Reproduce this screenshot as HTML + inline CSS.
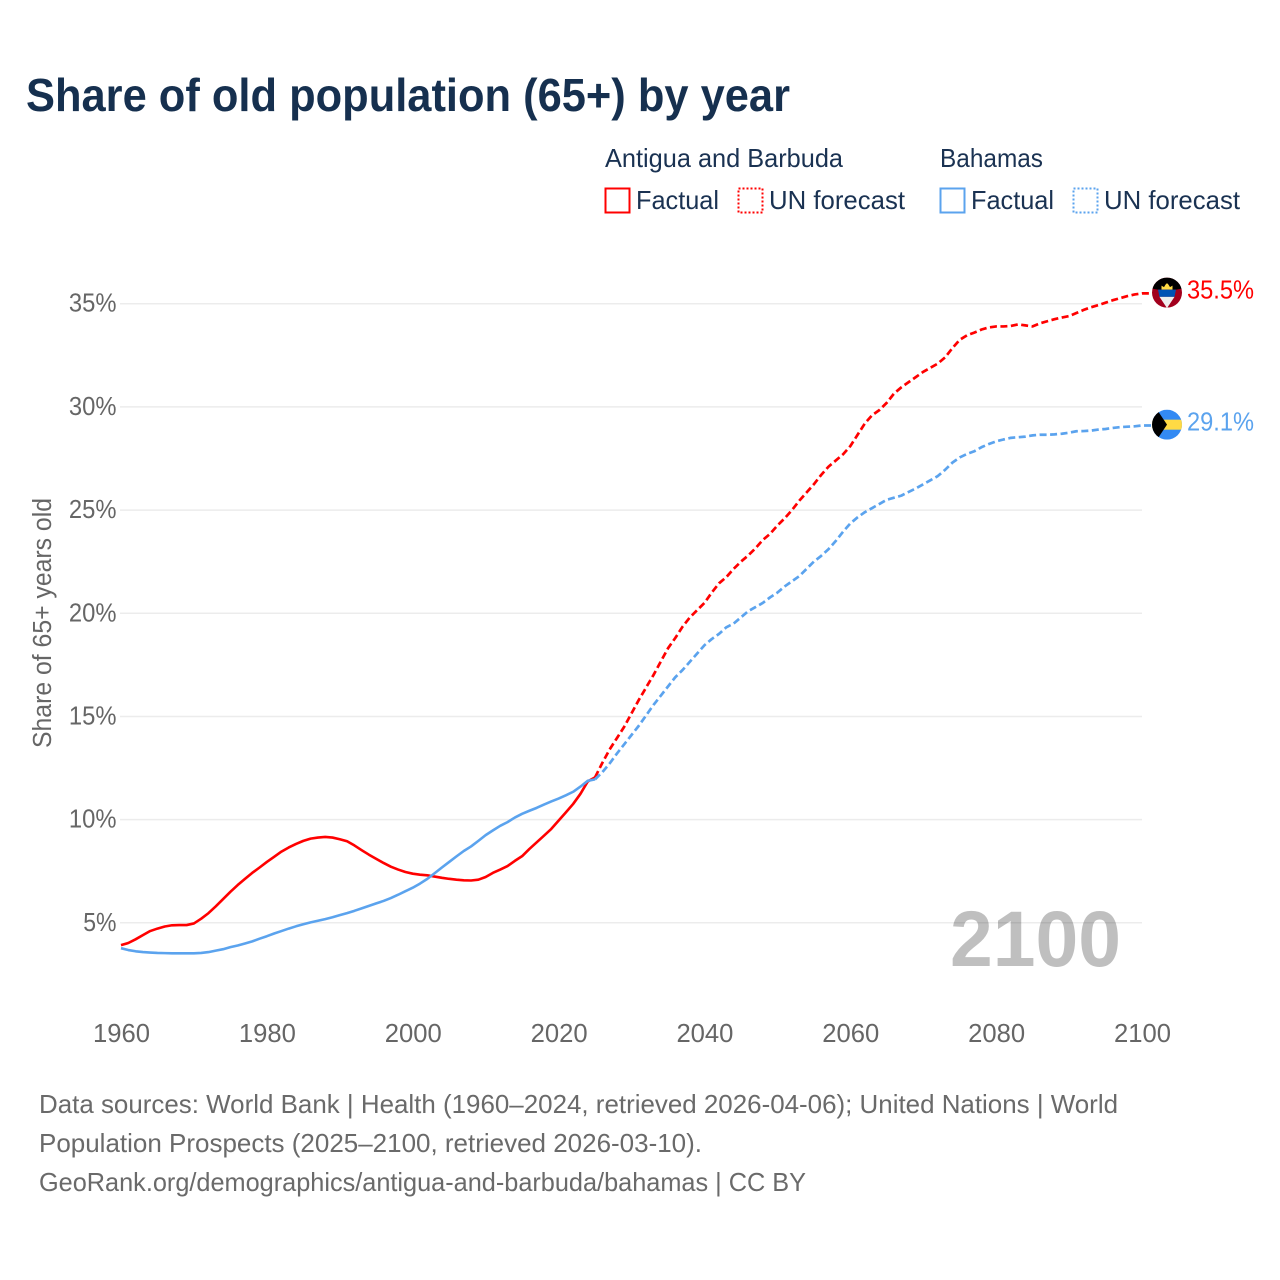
<!DOCTYPE html>
<html lang="en">
<head>
<meta charset="utf-8">
<title>Share of old population (65+) by year</title>
<style>
  html, body { margin: 0; padding: 0; background: #fff; }
  svg { display: block; font-family: "Liberation Sans", sans-serif; }
  .legend-text { font-size: 26px; fill: #1a3252; }
  .foot { font-size: 26px; fill: #6a6a6a; }
  .tick { font-size: 25.5px; fill: #666; }
</style>
</head>
<body>
<svg id="chart" width="1280" height="1280" viewBox="0 0 1280 1280" xmlns="http://www.w3.org/2000/svg">
  <defs>
    <clipPath id="flag-clip"><circle cx="0" cy="0" r="15"></circle></clipPath>
  </defs>
  <rect width="1280" height="1280" fill="#fff"></rect>

  <text x="26" y="111" font-size="46" font-weight="700" fill="#16304f" textLength="764" lengthAdjust="spacingAndGlyphs">Share of old population (65+) by year</text>

  <g>
    <text class="legend-text" x="605" y="167" textLength="238" lengthAdjust="spacingAndGlyphs">Antigua and Barbuda</text>
    <text class="legend-text" x="940" y="167" textLength="103" lengthAdjust="spacingAndGlyphs">Bahamas</text>

    <rect x="605.5" y="188.5" width="24" height="24" fill="none" stroke="#ff0000" stroke-width="2"></rect>
    <text class="legend-text" x="636" y="209" textLength="83" lengthAdjust="spacingAndGlyphs">Factual</text>
    <rect x="738.5" y="188.5" width="24" height="24" fill="none" stroke="#ff0000" stroke-width="2" stroke-dasharray="2 2"></rect>
    <text class="legend-text" x="769" y="209" textLength="136" lengthAdjust="spacingAndGlyphs">UN forecast</text>

    <rect x="940.5" y="188.5" width="24" height="24" fill="none" stroke="#5ba3ee" stroke-width="2"></rect>
    <text class="legend-text" x="971" y="209" textLength="83" lengthAdjust="spacingAndGlyphs">Factual</text>
    <rect x="1073.5" y="188.5" width="24" height="24" fill="none" stroke="#5ba3ee" stroke-width="2" stroke-dasharray="2 2"></rect>
    <text class="legend-text" x="1104" y="209" textLength="136" lengthAdjust="spacingAndGlyphs">UN forecast</text>
  </g>

  <g id="grid"></g>
  <g id="y-ticks"></g>
  <g id="x-ticks"></g>

  <text class="tick" transform="translate(51 623) rotate(-90)" text-anchor="middle" textLength="250" lengthAdjust="spacingAndGlyphs">Share of 65+ years old</text>

  <text x="950" y="966" font-size="79" font-weight="700" fill="#000" fill-opacity="0.25" textLength="171" lengthAdjust="spacingAndGlyphs">2100</text>

  <g id="series"></g>

  <g id="flag-antigua" clip-path="url(#flag-clip)">
    <rect x="-15" y="-15" width="30" height="30" fill="#a2001d"></rect>
    <polygon points="-15,-15 15,-15 15,-4 9,-3 -9,-3 -15,-4" fill="#000"></polygon>
    <polygon points="-5.5,-3 -5.5,-7 -3,-5.5 -1.5,-8 0,-9.5 1.5,-8 3,-5.5 5.5,-7 5.5,-3" fill="#ffda44"></polygon>
    <polygon points="-9,-3 9,-3 7.5,4.3 -7.5,4.3" fill="#0052b4"></polygon>
    <polygon points="-7.5,4.3 7.5,4.3 0,15.5" fill="#eeeeee"></polygon>
  </g>
  <g id="flag-bahamas" clip-path="url(#flag-clip)">
    <rect x="-15" y="-15" width="30" height="30" fill="#338af3"></rect>
    <rect x="-15" y="-5" width="30" height="10" fill="#ffda44"></rect>
    <polygon points="-15,-15 -10,-15 0,0 -10,15 -15,15" fill="#000"></polygon>
  </g>

  <g id="end-labels"></g>

  <g>
    <text class="foot" x="39" y="1113" textLength="1079" lengthAdjust="spacingAndGlyphs">Data sources: World Bank | Health (1960–2024, retrieved 2026-04-06); United Nations | World</text>
    <text class="foot" x="39" y="1152" textLength="663" lengthAdjust="spacingAndGlyphs">Population Prospects (2025–2100, retrieved 2026-03-10).</text>
    <text class="foot" x="39" y="1191" textLength="767" lengthAdjust="spacingAndGlyphs">GeoRank.org/demographics/antigua-and-barbuda/bahamas | CC BY</text>
  </g>
</svg>

<script>
const xTickYears = [1960, 1980, 2000, 2020, 2040, 2060, 2080, 2100];
const yTickValues = [5, 10, 15, 20, 25, 30, 35];
const yTickLabels = ["5%", "10%", "15%", "20%", "25%", "30%", "35%"];

const factualStartYear = 1960;
const forecastStartYear = 2025;

const antiguaFactual = [
  3.92, 4.02, 4.2, 4.4, 4.6, 4.72, 4.82, 4.88, 4.89, 4.89,
  4.97, 5.2, 5.47, 5.8, 6.15, 6.5, 6.83, 7.13, 7.42, 7.68,
  7.95, 8.2, 8.45, 8.65, 8.82, 8.97, 9.08, 9.13, 9.16, 9.13,
  9.05, 8.95, 8.75, 8.52, 8.3, 8.1, 7.9, 7.72, 7.58, 7.46,
  7.38, 7.33, 7.3, 7.24, 7.18, 7.13, 7.09, 7.06, 7.05, 7.09,
  7.22, 7.42, 7.58, 7.75, 8.0, 8.23, 8.58, 8.9, 9.22, 9.55,
  9.95, 10.35, 10.76, 11.25, 11.85, 12.05
];
const bahamasFactual = [
  3.77, 3.68, 3.62, 3.58, 3.56, 3.54, 3.53, 3.52, 3.52, 3.52,
  3.52, 3.54, 3.58, 3.65, 3.72, 3.82, 3.9, 4.0, 4.1, 4.23,
  4.35, 4.48, 4.6, 4.72, 4.83, 4.93, 5.02, 5.1, 5.18, 5.27,
  5.37, 5.47, 5.58, 5.7, 5.82, 5.94, 6.06, 6.2, 6.36, 6.53,
  6.7, 6.9, 7.13, 7.4, 7.68, 7.95, 8.22, 8.48, 8.7, 8.97,
  9.25, 9.48, 9.7, 9.88, 10.1, 10.28, 10.43, 10.57, 10.73, 10.88,
  11.02, 11.18, 11.35, 11.6, 11.88, 11.95
];
const antiguaForecast = [
  12.05, 12.75, 13.4, 13.95, 14.5, 15.15, 15.8, 16.4, 17.0, 17.65,
  18.3, 18.8, 19.35, 19.8, 20.15, 20.5, 21.0, 21.45, 21.75, 22.15,
  22.5, 22.8, 23.15, 23.55, 23.85, 24.25, 24.6, 25.0, 25.45, 25.85,
  26.25, 26.7, 27.1, 27.4, 27.7, 28.1, 28.65, 29.2, 29.6, 29.85,
  30.2, 30.65, 30.95, 31.2, 31.45, 31.7, 31.9, 32.1, 32.4, 32.85,
  33.25, 33.47, 33.6, 33.75, 33.85, 33.9, 33.9, 33.92, 34.0, 33.95,
  33.9, 34.05, 34.15, 34.25, 34.33, 34.4, 34.55, 34.7, 34.83, 34.93,
  35.05, 35.17, 35.27, 35.37, 35.45, 35.5
];
const bahamasForecast = [
  11.95, 12.3, 12.72, 13.2, 13.65, 14.1, 14.55, 15.05, 15.55, 16.0,
  16.45, 16.9, 17.25, 17.65, 18.05, 18.45, 18.75, 19.0, 19.32, 19.5,
  19.8, 20.1, 20.3, 20.5, 20.77, 21.0, 21.3, 21.55, 21.8, 22.15,
  22.5, 22.78, 23.1, 23.5, 23.95, 24.35, 24.65, 24.9, 25.1, 25.3,
  25.5, 25.6, 25.7, 25.88, 26.05, 26.25, 26.45, 26.65, 26.95, 27.3,
  27.55, 27.72, 27.85, 28.05, 28.2, 28.33, 28.42, 28.5, 28.53, 28.56,
  28.62, 28.65, 28.65, 28.67, 28.7, 28.75, 28.82, 28.83, 28.85, 28.9,
  28.93, 28.98, 29.02, 29.04, 29.06, 29.1
];
const endLabels = ["35.5%", "29.1%"];

const SVG_NS = "http://www.w3.org/2000/svg";
const RED = "#ff0000";
const BLUE = "#5ba3ee";
const FLAG_X = 1167;

function xScale(year) {
  return 121 + (year - 1960) * 7.293;
}
function yScale(value) {
  return 922.8 - (value - 5) * 20.636;
}
function make(tag, attrs, parent) {
  const el = document.createElementNS(SVG_NS, tag);
  for (const k in attrs) el.setAttribute(k, attrs[k]);
  parent.appendChild(el);
  return el;
}
function linePath(startYear, values, extendToFlag) {
  let d = "";
  values.forEach(function (v, i) {
    d += (i ? "L" : "M") + xScale(startYear + i).toFixed(2) + " " + yScale(v).toFixed(2);
  });
  if (extendToFlag) {
    d += "L" + (FLAG_X - 15) + " " + yScale(values[values.length - 1]).toFixed(2);
  }
  return d;
}

const gridGroup = document.getElementById("grid");
const yTickGroup = document.getElementById("y-ticks");
yTickValues.forEach(function (v, i) {
  const line = make("line", { x1: 120, x2: 1142, y1: yScale(v), y2: yScale(v), stroke: "#ececec", "stroke-width": 1.5 }, gridGroup);
  
  
  const label = yTickLabels[i];
  const t = make("text", { class: "tick", x: 116.5, y: yScale(v) + 8, "text-anchor": "end", textLength: (label.length - 1) * 14.3 + 19, lengthAdjust: "spacingAndGlyphs" }, yTickGroup);
  t.textContent = label;
  
  
});

const xTickGroup = document.getElementById("x-ticks");
xTickYears.forEach(function (year) {
  const t = make("text", { class: "tick", x: xScale(year) + 0.5, y: 1042, "text-anchor": "middle", textLength: 57, lengthAdjust: "spacingAndGlyphs" }, xTickGroup);
  t.textContent = String(year);
  
  
});

const seriesGroup = document.getElementById("series");

const antiguaFactualLine = make("path", { d: linePath(factualStartYear, antiguaFactual, false), fill: "none", stroke: RED, "stroke-width": 2.6, "stroke-linejoin": "round" }, seriesGroup);



const antiguaForecastLine = make("path", { d: linePath(forecastStartYear, antiguaForecast, true), fill: "none", stroke: RED, "stroke-width": 2.7, "stroke-dasharray": "7 3.5", "stroke-linejoin": "round" }, seriesGroup);



const bahamasFactualLine = make("path", { d: linePath(factualStartYear, bahamasFactual, false), fill: "none", stroke: BLUE, "stroke-width": 2.6, "stroke-linejoin": "round" }, seriesGroup);



const bahamasForecastLine = make("path", { d: linePath(forecastStartYear, bahamasForecast, true), fill: "none", stroke: BLUE, "stroke-width": 2.7, "stroke-dasharray": "7 3.5", "stroke-linejoin": "round" }, seriesGroup);



const antiguaEnd = yScale(antiguaForecast[antiguaForecast.length - 1]);
const bahamasEnd = yScale(bahamasForecast[bahamasForecast.length - 1]);
document.getElementById("flag-antigua").setAttribute("transform", "translate(" + FLAG_X + " " + (antiguaEnd - 0.8) + ")");
document.getElementById("flag-bahamas").setAttribute("transform", "translate(" + FLAG_X + " " + (bahamasEnd - 0.8) + ")");

const endGroup = document.getElementById("end-labels");
const antiguaLabel = make("text", { x: 1187, y: antiguaEnd + 5, "font-size": 25.5, fill: RED, textLength: 67, lengthAdjust: "spacingAndGlyphs" }, endGroup);
antiguaLabel.textContent = endLabels[0];



const bahamasLabel = make("text", { x: 1187, y: bahamasEnd + 5, "font-size": 25.5, fill: BLUE, textLength: 67, lengthAdjust: "spacingAndGlyphs" }, endGroup);
bahamasLabel.textContent = endLabels[1];


</script>
</body>
</html>
